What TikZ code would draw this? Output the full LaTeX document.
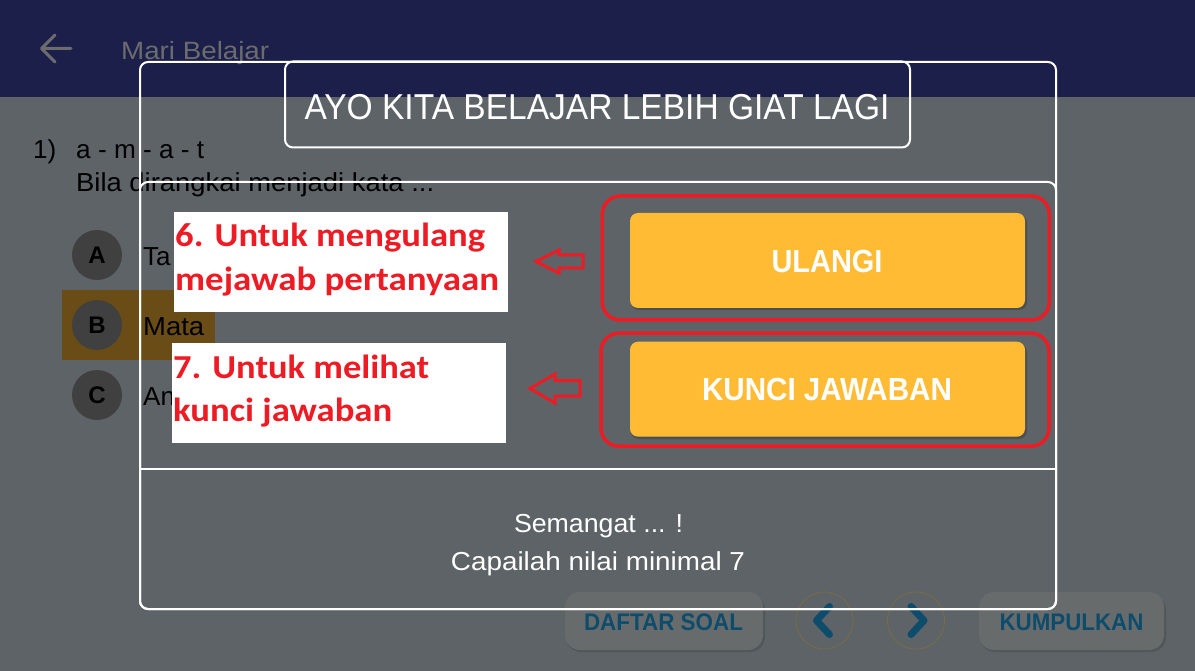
\documentclass[tikz,border=0pt]{standalone}
\usepackage{fontspec}
\setmainfont{Liberation Sans}
\newfontfamily\calib{Carlito}
\usepackage{graphicx}
\definecolor{cNavy}{HTML}{1B1F4A}
\definecolor{cBg}{HTML}{5D6366}
\definecolor{cYel}{HTML}{FFBB33}
\definecolor{cRed}{HTML}{ED1C24}
\definecolor{cBrown}{HTML}{6A4C17}
\definecolor{cCirc}{HTML}{404040}
\definecolor{cBtn}{HTML}{686B6C}
\definecolor{cBlue}{HTML}{0E4C6C}
\definecolor{cMari}{HTML}{6C6C6E}
\definecolor{cEdge}{HTML}{7A6C45}
\newcommand{\fitw}[2]{\resizebox{#1pt}{\height}{#2}}
\tikzset{
  txt/.style={inner sep=0pt, anchor=base west},
  ctxt/.style={inner sep=0pt, anchor=base},
  wline/.style={draw=white, line width=2pt},
  optcirc/.style={circle, fill=cCirc, minimum size=50pt, inner sep=0pt, font=\bfseries\fontsize{24}{24}\selectfont, text=black},
  redlabel/.style={txt, text=cRed, font=\calib\bfseries\fontsize{33.5}{33.5}\selectfont},
  yelbtn/.style={fill=cYel, rounded corners=8pt, minimum width=395pt, minimum height=95pt, inner sep=0pt},
  redbox/.style={draw=cRed, line width=3.5pt, rounded corners=18pt, inner sep=0pt},
  botbtn/.style={fill=cBtn, rounded corners=15pt, minimum height=58pt, inner sep=0pt},
  botbtntxt/.style={ctxt, text=cBlue, font=\bfseries\fontsize{24}{24}\selectfont},
  navcirc/.style={circle, draw=cEdge, line width=0.8pt, minimum size=57pt, inner sep=0pt},
  chev/.style={draw=cBlue, line width=7pt, line cap=round, line join=round},
  redarrow/.style={draw=cRed, line width=3pt, line join=miter},
}
\begin{document}
\begin{tikzpicture}[x=1pt,y=-1pt]
\useasboundingbox (0,0) rectangle (1195,671);
\fill[cBg] (0,0) rectangle (1195,671);
\fill[cNavy] (0,0) rectangle (1195,97);
% back arrow
\draw[draw=cMari, line width=3pt, line cap=round, line join=round] (71,48.5) -- (42,48.5) (55,35) -- (41.5,48.5) -- (55,62);
\node[txt, text=cMari, font=\fontsize{25}{25}\selectfont] (mari) at (121,60) {\fitw{148}{Mari Belajar}};
% question
\node[txt, text=black, font=\fontsize{26}{26}\selectfont] (qnum) at (33,159) {1)};
\node[txt, text=black, font=\fontsize{26}{26}\selectfont] (q1) at (76,159) {\fitw{128}{a - m - a - t}};
\node[txt, text=black, font=\fontsize{26}{26}\selectfont] (q2) at (76,192) {\fitw{358}{Bila dirangkai menjadi kata ...}};
% options
\fill[cBrown] (62,290) rectangle (215,360);
\node[optcirc] (ca) at (97,255) {A};
\node[optcirc] (cb) at (97,325) {B};
\node[optcirc] (cc) at (97,395) {C};
\node[txt, text=black, font=\fontsize{26}{26}\selectfont] (oa) at (143,265.5) {Ta};
\node[txt, text=black, font=\fontsize{26}{26}\selectfont] (ob) at (143,335) {\fitw{61}{Mata}};
\node[txt, text=black, font=\fontsize{26}{26}\selectfont] (oc) at (143,405) {An};
% bottom buttons
\fill[black, opacity=0.12, rounded corners=15pt] (566,595) rectangle (765,652);
\fill[black, opacity=0.12, rounded corners=15pt] (980,595) rectangle (1166,652);
\node[botbtn, minimum width=198pt] (daftar) at (664,621) {};
\node[botbtntxt] (daftart) at (663.5,630) {\fitw{159}{DAFTAR SOAL}};
\node[botbtn, minimum width=185pt] (kumpul) at (1071.5,621) {};
\node[botbtntxt] (kumpult) at (1071.5,630) {\fitw{144}{KUMPULKAN}};
\node[navcirc] (prev) at (824.5,620.5) {};
\node[navcirc] (next) at (916,620.5) {};
\draw[chev] ([shift={(5,-14)}]prev.center) -- ([shift={(-8,0)}]prev.center) -- ([shift={(5,14)}]prev.center);
\draw[chev] ([shift={(-5,-14)}]next.center) -- ([shift={(8,0)}]next.center) -- ([shift={(-5,14)}]next.center);
% dialog
\draw[wline, rounded corners=8pt] (140,62) rectangle (1056,609);
\draw[wline, rounded corners=8pt] (140,182) rectangle (1056,609);
\draw[wline] (140,469) -- (1056,469);
\node[wline, rounded corners=8pt, minimum width=625pt, minimum height=86pt, inner sep=0pt] (title) at (597.5,104.5) {};
\node[ctxt, text=white, font=\fontsize{36}{36}\selectfont] (titlet) at (597,120) {\fitw{585}{AYO KITA BELAJAR LEBIH GIAT LAGI}};
\node[ctxt, text=white, font=\fontsize{26}{26}\selectfont] (sem) at (598.5,532) {\fitw{169}{Semangat ... !}};
\node[ctxt, text=white, font=\fontsize{26}{26}\selectfont] (cap) at (598,570) {\fitw{294}{Capailah nilai minimal 7}};
% buttons
\fill[black, opacity=0.2, rounded corners=8pt] (631,215) rectangle (1027,310);
\fill[black, opacity=0.2, rounded corners=8pt] (631,344) rectangle (1027,439);
\node[yelbtn] (ulangi) at (827.5,260.5) {};
\node[ctxt, text=white, font=\bfseries\fontsize{32}{32}\selectfont] (ulangit) at (827,273) {\fitw{111}{ULANGI}};
\node[yelbtn] (kunci) at (827.5,389.2) {};
\node[ctxt, text=white, font=\bfseries\fontsize{32}{32}\selectfont] (kuncit) at (827,400) {\fitw{250}{KUNCI JAWABAN}};
\node[redbox, minimum width=447pt, minimum height=124pt] (r1) at (825.8,258) {};
\node[redbox, minimum width=448pt, minimum height=113pt] (r2) at (825,389.7) {};
% labels
\fill[white] (174,212) rectangle (508,312);
\fill[white] (172,343) rectangle (506,443);
\node[redlabel] (l1a) at (175,246.5) {\fitw{310}{6. Untuk mengulang}};
\node[redlabel] (l1b) at (175,291) {\fitw{324}{mejawab pertanyaan}};
\node[redlabel] (l2a) at (173,378) {\fitw{256}{7. Untuk melihat}};
\node[redlabel] (l2b) at (173,421.5) {\fitw{219}{kunci jawaban}};
% hollow arrows
\draw[redarrow] (536,261.5) -- (559,250) -- (559,255) -- (583,255) -- (583,268) -- (559,268) -- (559,273) -- cycle;
\draw[redarrow] (530,388.5) -- (555,374) -- (555,380.5) -- (580,380.5) -- (580,396) -- (555,396) -- (555,403) -- cycle;
\end{tikzpicture}
\end{document}
